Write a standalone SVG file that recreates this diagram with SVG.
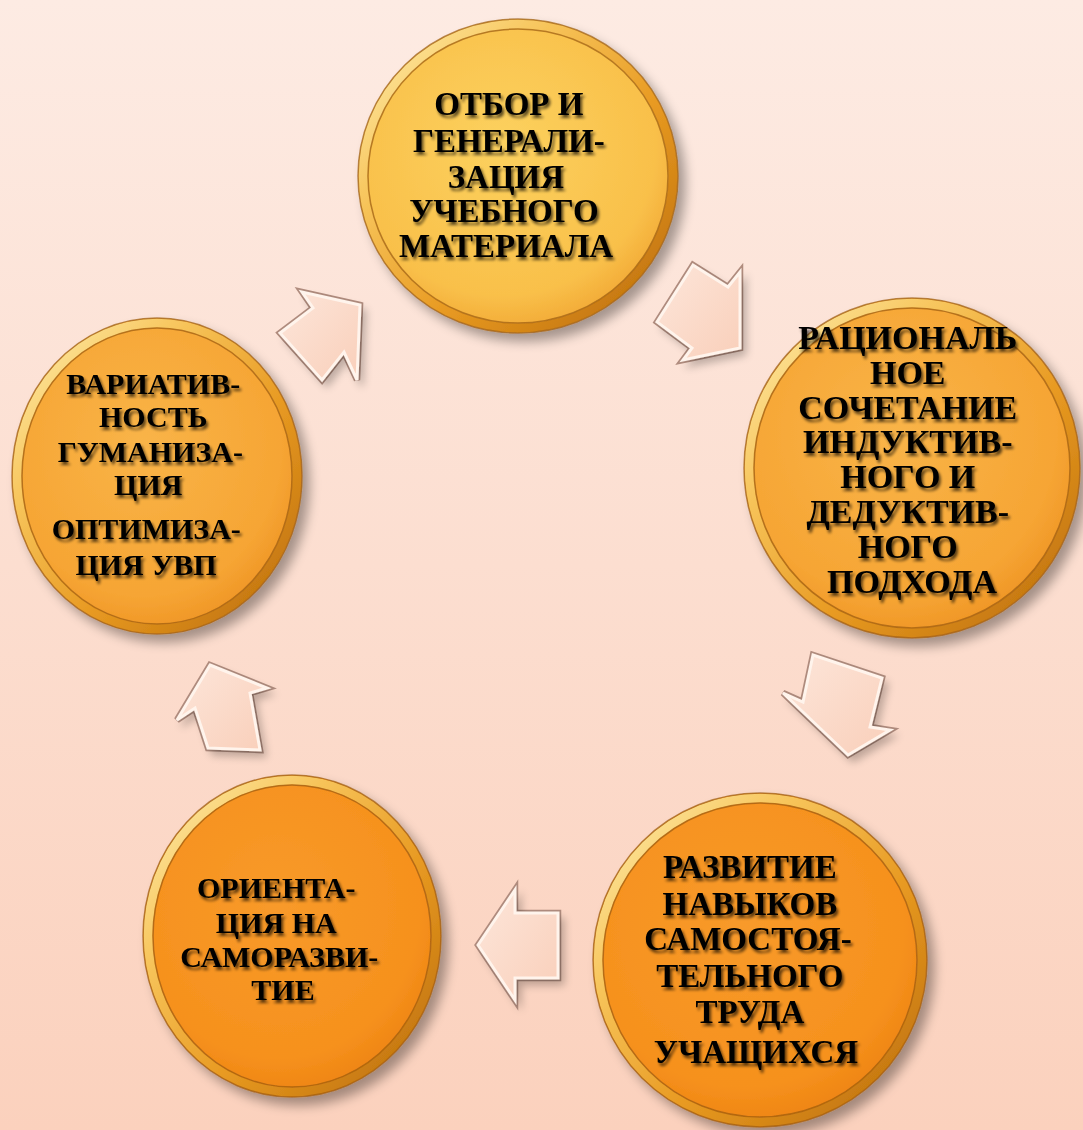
<svg xmlns="http://www.w3.org/2000/svg" width="1083" height="1130" viewBox="0 0 1083 1130">
<style>
.lbl{font-family:"Liberation Serif","Times New Roman",serif;font-weight:bold;fill:#000;text-anchor:middle;filter:url(#tsh)}
.rimline{fill:none;stroke:#9a5a10;stroke-width:1.5;stroke-opacity:.7}
.arr{fill:url(#arrFill);stroke:#fff4ec;stroke-width:3;stroke-linejoin:miter;filter:url(#ash)}
.arrEdge{fill:none;stroke:#b08c7e;stroke-width:6.5;stroke-linejoin:miter}
</style>
<defs>
<linearGradient id="bg" x1="0" y1="0" x2="0" y2="1">
<stop offset="0" stop-color="#fdebe3"/>
<stop offset="1" stop-color="#fbd1bd"/>
</linearGradient>
<radialGradient id="gTop" cx="0.45" cy="0.4" r="0.6">
<stop offset="0" stop-color="#fcd15e"/>
<stop offset="0.8" stop-color="#f9c04a"/>
<stop offset="1" stop-color="#f2a935"/>
</radialGradient>
<radialGradient id="gMid" cx="0.45" cy="0.4" r="0.6">
<stop offset="0" stop-color="#f9b448"/>
<stop offset="0.8" stop-color="#f6a534"/>
<stop offset="1" stop-color="#ef9525"/>
</radialGradient>
<radialGradient id="gBot" cx="0.45" cy="0.4" r="0.6">
<stop offset="0" stop-color="#f89a2a"/>
<stop offset="0.8" stop-color="#f6911d"/>
<stop offset="1" stop-color="#ee8412"/>
</radialGradient>
<linearGradient id="rim" x1="0" y1="0" x2="1" y2="1">
<stop offset="0" stop-color="#fff0b0"/>
<stop offset="0.3" stop-color="#f7c45a"/>
<stop offset="0.6" stop-color="#e89a22"/>
<stop offset="1" stop-color="#b86a08"/>
</linearGradient>
<linearGradient id="arrFill" x1="0" y1="0" x2="1" y2="1">
<stop offset="0" stop-color="#fde6da"/>
<stop offset="1" stop-color="#f9cfba"/>
</linearGradient>
<filter id="csh" x="-20%" y="-20%" width="140%" height="140%">
<feGaussianBlur in="SourceAlpha" stdDeviation="6"/>
<feOffset dx="7" dy="8"/>
<feComponentTransfer><feFuncA type="linear" slope="0.35"/></feComponentTransfer>
<feMerge><feMergeNode/><feMergeNode in="SourceGraphic"/></feMerge>
</filter>
<filter id="ash" x="-30%" y="-30%" width="160%" height="160%">
<feGaussianBlur in="SourceAlpha" stdDeviation="4"/>
<feOffset dx="5" dy="6"/>
<feComponentTransfer><feFuncA type="linear" slope="0.25"/></feComponentTransfer>
<feMerge><feMergeNode/><feMergeNode in="SourceGraphic"/></feMerge>
</filter>
<filter id="tsh" x="-10%" y="-10%" width="120%" height="130%">
<feGaussianBlur in="SourceAlpha" stdDeviation="1.6"/>
<feOffset dx="2" dy="3"/>
<feComponentTransfer><feFuncA type="linear" slope="0.65"/></feComponentTransfer>
<feMerge><feMergeNode/><feMergeNode in="SourceGraphic"/></feMerge>
</filter>
</defs>
<rect width="1083" height="1130" fill="url(#bg)"/>

<g id="connectors">
<g id="arrow-left-top">
<polygon class="arrEdge" points="360,305 302,292 313,308 280,333 322,380 344,352 357,380"/>
<polygon class="arr" points="360,305 302,292 313,308 280,333 322,380 344,352 357,380"/>
</g>
<g id="arrow-top-right">
<polygon class="arrEdge" points="740,348 683,360 692,348 657,322 693,265 728,287 740,272"/>
<polygon class="arr" points="740,348 683,360 692,348 657,322 693,265 728,287 740,272"/>
</g>
<g id="arrow-right-bottomright">
<polygon class="arrEdge" points="848,755 890,730 870,727 882,678 813,655 803,702 783,693"/>
<polygon class="arr" points="848,755 890,730 870,727 882,678 813,655 803,702 783,693"/>
</g>
<g id="arrow-bottomright-bottomleft">
<polygon class="arrEdge" points="478,945 515,890 515,913 558,913 558,978 515,978 515,1000"/>
<polygon class="arr" points="478,945 515,890 515,913 558,913 558,978 515,978 515,1000"/>
</g>
<g id="arrow-bottomleft-left">
<polygon class="arrEdge" points="210,665 267,688 250,693 260,750 208,748 195,708 177,720"/>
<polygon class="arr" points="210,665 267,688 250,693 260,750 208,748 195,708 177,720"/>
</g>
</g>

<g id="node-top">
<g filter="url(#csh)">
<ellipse cx="518" cy="176" rx="160" ry="157" fill="url(#gTop)"/>
<ellipse cx="518" cy="176" rx="155" ry="152" fill="none" stroke="url(#rim)" stroke-width="9"/>
<ellipse cx="518" cy="176" rx="160" ry="157" class="rimline"/>
<ellipse cx="518" cy="176" rx="150" ry="147" class="rimline"/>
</g>
<text class="lbl" font-size="33">
<tspan x="513" y="115">ОТБОР И</tspan>
<tspan x="513" y="152">ГЕНЕРАЛИ-</tspan>
<tspan x="510" y="188">ЗАЦИЯ</tspan>
<tspan x="508" y="222">УЧЕБНОГО</tspan>
<tspan x="506" y="257">МАТЕРИАЛА</tspan>
</text>
</g>

<g id="node-right">
<g filter="url(#csh)">
<ellipse cx="912" cy="468" rx="168" ry="170" fill="url(#gMid)"/>
<ellipse cx="912" cy="468" rx="163" ry="165" fill="none" stroke="url(#rim)" stroke-width="9"/>
<ellipse cx="912" cy="468" rx="168" ry="170" class="rimline"/>
<ellipse cx="912" cy="468" rx="158" ry="160" class="rimline"/>
</g>
<text class="lbl" font-size="34">
<tspan x="912" y="349">РАЦИОНАЛЬ</tspan>
<tspan x="912" y="384">НОЕ</tspan>
<tspan x="912" y="419">СОЧЕТАНИЕ</tspan>
<tspan x="912" y="453">ИНДУКТИВ-</tspan>
<tspan x="912" y="488">НОГО И</tspan>
<tspan x="912" y="523">ДЕДУКТИВ-</tspan>
<tspan x="912" y="558">НОГО</tspan>
<tspan x="912" y="593">ПОДХОДА</tspan>
</text>
</g>

<g id="node-bottomright">
<g filter="url(#csh)">
<ellipse cx="760" cy="960" rx="167" ry="167" fill="url(#gBot)"/>
<ellipse cx="760" cy="960" rx="162" ry="162" fill="none" stroke="url(#rim)" stroke-width="9"/>
<ellipse cx="760" cy="960" rx="167" ry="167" class="rimline"/>
<ellipse cx="760" cy="960" rx="157" ry="157" class="rimline"/>
</g>
<text class="lbl" font-size="33">
<tspan x="754" y="878">РАЗВИТИЕ</tspan>
<tspan x="754" y="915">НАВЫКОВ</tspan>
<tspan x="752" y="950">САМОСТОЯ-</tspan>
<tspan x="754" y="987">ТЕЛЬНОГО</tspan>
<tspan x="754" y="1023">ТРУДА</tspan>
<tspan x="756" y="1063">УЧАЩИХСЯ</tspan>
</text>
</g>

<g id="node-bottomleft">
<g filter="url(#csh)">
<ellipse cx="292" cy="936" rx="149" ry="161" fill="url(#gBot)"/>
<ellipse cx="292" cy="936" rx="144" ry="156" fill="none" stroke="url(#rim)" stroke-width="9"/>
<ellipse cx="292" cy="936" rx="149" ry="161" class="rimline"/>
<ellipse cx="292" cy="936" rx="139" ry="151" class="rimline"/>
</g>
<text class="lbl" font-size="30">
<tspan x="280" y="898">ОРИЕНТА-</tspan>
<tspan x="280" y="933">ЦИЯ НА</tspan>
<tspan x="283" y="967">САМОРАЗВИ-</tspan>
<tspan x="283" y="1000">ТИЕ</tspan>
</text>
</g>

<g id="node-left">
<g filter="url(#csh)">
<ellipse cx="157" cy="476" rx="145" ry="158" fill="url(#gMid)"/>
<ellipse cx="157" cy="476" rx="140" ry="153" fill="none" stroke="url(#rim)" stroke-width="9"/>
<ellipse cx="157" cy="476" rx="145" ry="158" class="rimline"/>
<ellipse cx="157" cy="476" rx="135" ry="148" class="rimline"/>
</g>
<text class="lbl" font-size="30">
<tspan x="157" y="394">ВАРИАТИВ-</tspan>
<tspan x="157" y="427">НОСТЬ</tspan>
<tspan x="154" y="462">ГУМАНИЗА-</tspan>
<tspan x="152" y="495">ЦИЯ</tspan>
<tspan x="150" y="539">ОПТИМИЗА-</tspan>
<tspan x="146" y="575">ЦИЯ УВП</tspan>
</text>
</g>
</svg>
